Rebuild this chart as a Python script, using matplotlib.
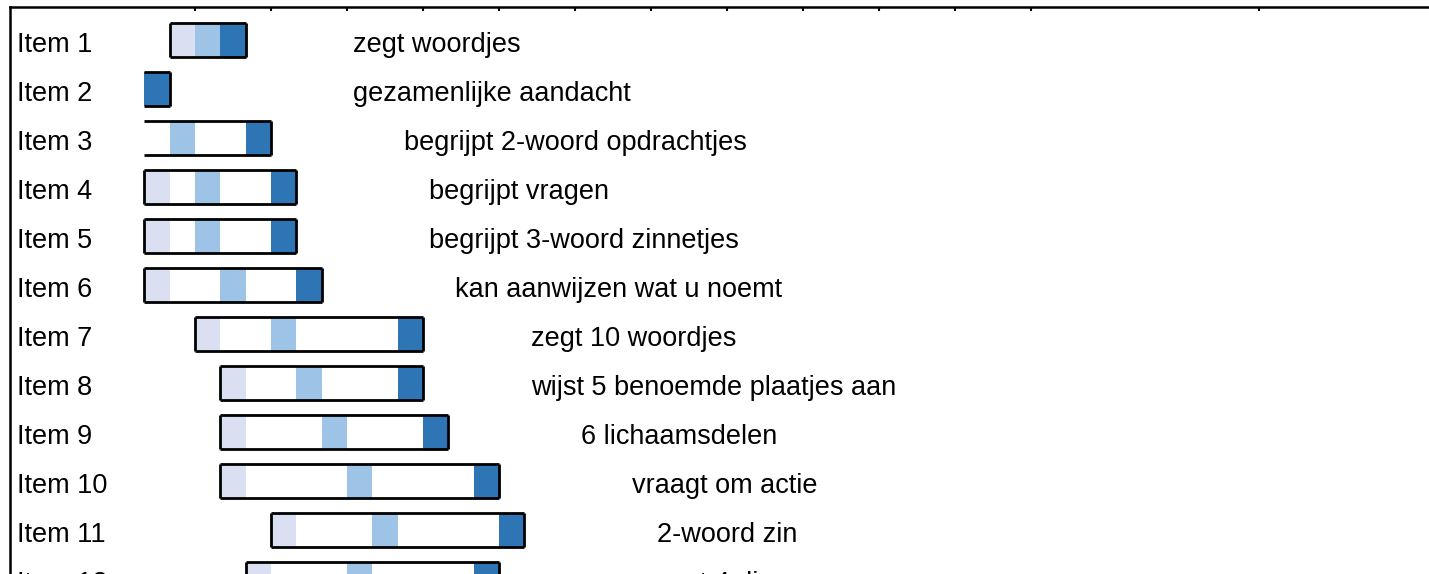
import matplotlib
matplotlib.use("Agg")
import matplotlib.pyplot as plt

# ---- data ----
items = [f"Item {i}" for i in range(1, 13)]
descriptions = [
    "zegt woordjes",
    "gezamenlijke aandacht",
    "begrijpt 2-woord opdrachtjes",
    "begrijpt vragen",
    "begrijpt 3-woord zinnetjes",
    "kan aanwijzen wat u noemt",
    "zegt 10 woordjes",
    "wijst 5 benoemde plaatjes aan",
    "6 lichaamsdelen",
    "vraagt om actie",
    "2-woord zin",
    "noemt 4 dieren",
]
box_start = [5, 4, 4, 4, 4, 4, 6, 7, 7, 7, 9, 8]
box_end = [8, 5, 9, 10, 10, 11, 15, 15, 16, 18, 19, 18]
light_start = [5, None, None, 4, 4, 4, 6, 7, 7, 7, 9, 8]
medium_start = [6, None, 5, 6, 6, 7, 9, 10, 11, 12, 13, 12]
label_x = [12.25, 12.25, 14.25, 15.25, 15.25, 16.25, 19.25, 19.25, 21.25, 23.25, 24.25, 23.25]
tick_values = [6, 9, 12, 15, 18, 21, 24, 27, 30, 33, 36, 39, 48]

# ---- style ----
c_light = "#dae0f2"
c_medium = "#9dc3e6"
c_dark = "#2e75b6"
font = ["Liberation Sans", "DejaVu Sans"]
fs = 19.5

W, H = 1429, 574
fig = plt.figure(figsize=(W / 100, H / 100), dpi=100)
extra = 20
ax = fig.add_axes([10 / W, 0, (W - 10 + extra) / W, (H - 7) / H])

rows = list(range(1, len(items) + 1))
bh = 0.69
lw = 2.0

for y, s, e, ls, ms in zip(rows, box_start, box_end, light_start, medium_start):
    if ls is not None:
        ax.barh(y, 1, left=ls, height=bh, color=c_light, linewidth=0, zorder=2)
    if ms is not None:
        ax.barh(y, 1, left=ms, height=bh, color=c_medium, linewidth=0, zorder=2)
    ax.barh(y, 1, left=e - 1, height=bh, color=c_dark, linewidth=0, zorder=2)
    # outline box (left edge only when a first segment exists)
    ax.hlines([y - bh / 2, y + bh / 2], s, e, colors="black", linewidth=lw, zorder=3)
    ax.vlines(e, y - bh / 2, y + bh / 2, colors="black", linewidth=lw, zorder=3)
    if ls is not None:
        ax.vlines(s, y - bh / 2, y + bh / 2, colors="black", linewidth=lw, zorder=3)

for y, name, desc, lx in zip(rows, items, descriptions, label_x):
    ax.text(-1.03, y + 0.24, name, fontsize=fs, family=font, va="baseline",
            ha="left", color="black")
    ax.text(lx, y + 0.24, desc, fontsize=fs, family=font, va="baseline",
            ha="left", color="black")

unit = 76.0 / 3  # px per unit
x0 = 6 - (195 - 10) / unit
x1 = 6 + (W + extra - 195) / unit
ax.set_xlim(x0, x1)
top = 1 - 33 / 49
ax.set_ylim(top + (H - 7) / 49, top)

ax.xaxis.tick_top()
ax.set_xticks(tick_values)
ax.tick_params(axis="x", direction="in", length=3, width=1.5, labeltop=False,
               labelbottom=False, top=True, bottom=False)
ax.set_yticks([])
for sp in ["right", "bottom"]:
    ax.spines[sp].set_visible(False)
for sp in ["top", "left"]:
    ax.spines[sp].set_linewidth(1.8)

fig.savefig("out.png", dpi=100)
